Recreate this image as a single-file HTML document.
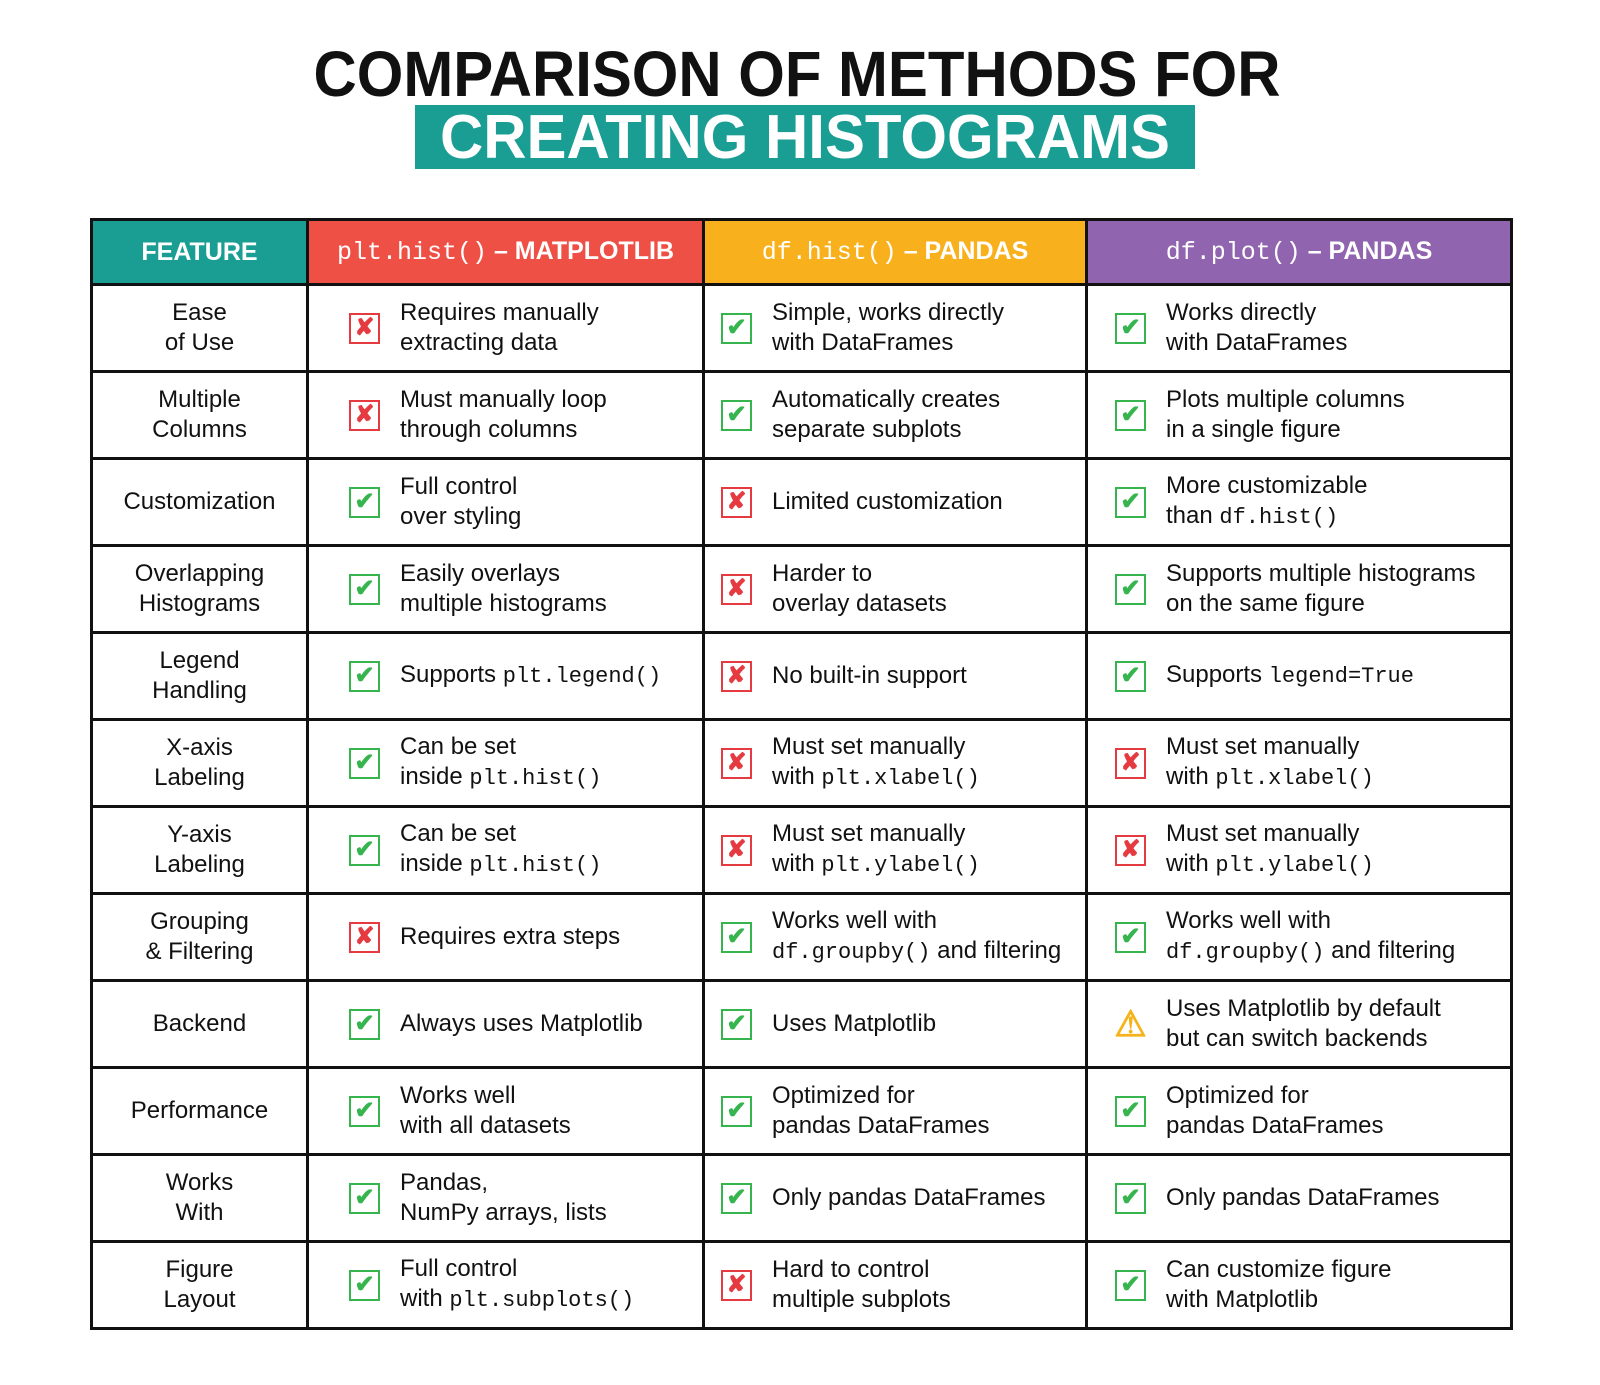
<!DOCTYPE html>
<html><head><meta charset="utf-8"><style>
body{margin:0;width:1600px;height:1385px;background:#fff;font-family:"Liberation Sans",sans-serif;position:relative;overflow:hidden}
#tbl{position:absolute;left:90px;top:218px;border-collapse:collapse;table-layout:fixed;width:1420px}
#tbl td,#tbl th{border:3px solid #111;padding:0}
#tbl th{height:62px;color:#fff;font-size:25px;font-weight:bold}
#tbl td{height:84px;font-size:24px;color:#111;line-height:30px}
td.f{text-align:center}
.c{display:flex;align-items:center}
.ic{width:31px;height:31px;flex:0 0 31px;margin-right:20px;border:2px solid;box-sizing:border-box;display:flex;align-items:center;justify-content:center;font-weight:bold;font-size:24px}
.ok{border-color:#36b44e;color:#36b44e}
.no{border-color:#e53a40;color:#e53a40}
.wa{border:none;color:#f5b21a;font-size:36px}
code{font-family:"Liberation Mono",monospace;font-size:22px}
th code{font-size:25px;font-weight:normal}
</style></head><body>
<svg width="1600" height="180" style="position:absolute;left:0;top:0">
<text x="797" y="96" text-anchor="middle" font-family="Liberation Sans" font-weight="bold" font-size="64" textLength="967" lengthAdjust="spacingAndGlyphs" fill="#111">COMPARISON OF METHODS FOR</text>
<rect x="415" y="105" width="780" height="64" fill="#1a9e94"/>
<text x="805" y="158" text-anchor="middle" font-family="Liberation Sans" font-weight="bold" font-size="62" textLength="730" lengthAdjust="spacingAndGlyphs" fill="#fff">CREATING HISTOGRAMS</text>
</svg>
<table id="tbl">
<colgroup><col style="width:216px"><col style="width:396px"><col style="width:383px"><col style="width:425px"></colgroup>
<tr>
<th style="background:#1a9e94">FEATURE</th>
<th style="background:#ef5046"><code>plt.hist()</code> – MATPLOTLIB</th>
<th style="background:#f8b01c"><code>df.hist()</code> – PANDAS</th>
<th style="background:#9064ae"><code>df.plot()</code> – PANDAS</th>
</tr>
</table>
<script>
const rows=[
["Ease<br>of Use",["no","Requires manually<br>extracting data"],["ok","Simple, works directly<br>with DataFrames"],["ok","Works directly<br>with DataFrames"]],
["Multiple<br>Columns",["no","Must manually loop<br>through columns"],["ok","Automatically creates<br>separate subplots"],["ok","Plots multiple columns<br>in a single figure"]],
["Customization",["ok","Full control<br>over styling"],["no","Limited customization"],["ok","More customizable<br>than <code>df.hist()</code>"]],
["Overlapping<br>Histograms",["ok","Easily overlays<br>multiple histograms"],["no","Harder to<br>overlay datasets"],["ok","Supports multiple histograms<br>on the same figure"]],
["Legend<br>Handling",["ok","Supports <code>plt.legend()</code>"],["no","No built-in support"],["ok","Supports <code>legend=True</code>"]],
["X-axis<br>Labeling",["ok","Can be set<br>inside <code>plt.hist()</code>"],["no","Must set manually<br>with <code>plt.xlabel()</code>"],["no","Must set manually<br>with <code>plt.xlabel()</code>"]],
["Y-axis<br>Labeling",["ok","Can be set<br>inside <code>plt.hist()</code>"],["no","Must set manually<br>with <code>plt.ylabel()</code>"],["no","Must set manually<br>with <code>plt.ylabel()</code>"]],
["Grouping<br>&amp; Filtering",["no","Requires extra steps"],["ok","Works well with<br><code>df.groupby()</code> and filtering"],["ok","Works well with<br><code>df.groupby()</code> and filtering"]],
["Backend",["ok","Always uses Matplotlib"],["ok","Uses Matplotlib"],["wa","Uses Matplotlib by default<br>but can switch backends"]],
["Performance",["ok","Works well<br>with all datasets"],["ok","Optimized for<br>pandas DataFrames"],["ok","Optimized for<br>pandas DataFrames"]],
["Works<br>With",["ok","Pandas,<br>NumPy arrays, lists"],["ok","Only pandas DataFrames"],["ok","Only pandas DataFrames"]],
["Figure<br>Layout",["ok","Full control<br>with <code>plt.subplots()</code>"],["no","Hard to control<br>multiple subplots"],["ok","Can customize figure<br>with Matplotlib"]]
];
const cols=["plt-hist","df-hist","df-plot"];
const pads=[40,16,27];
const sym={ok:"✔",no:"✘",wa:"⚠"};
const t=document.getElementById('tbl');
rows.forEach((r,i)=>{
 const tr=document.createElement('tr');
 
 
 const f=document.createElement('td');f.className='f';f.innerHTML=r[0];
 
 
 tr.appendChild(f);
 for(let k=1;k<4;k++){
  const td=document.createElement('td');
  
  
  const d=document.createElement('div');d.className='c';d.style.paddingLeft=pads[k-1]+'px';
  const ic=document.createElement('span');ic.className='ic '+r[k][0];ic.textContent=sym[r[k][0]];
  
  
  const s=document.createElement('span');s.innerHTML=r[k][1];
  
  
  d.appendChild(ic);d.appendChild(s);td.appendChild(d);tr.appendChild(td);
 }
 t.appendChild(tr);
});
</script>
</body></html>
